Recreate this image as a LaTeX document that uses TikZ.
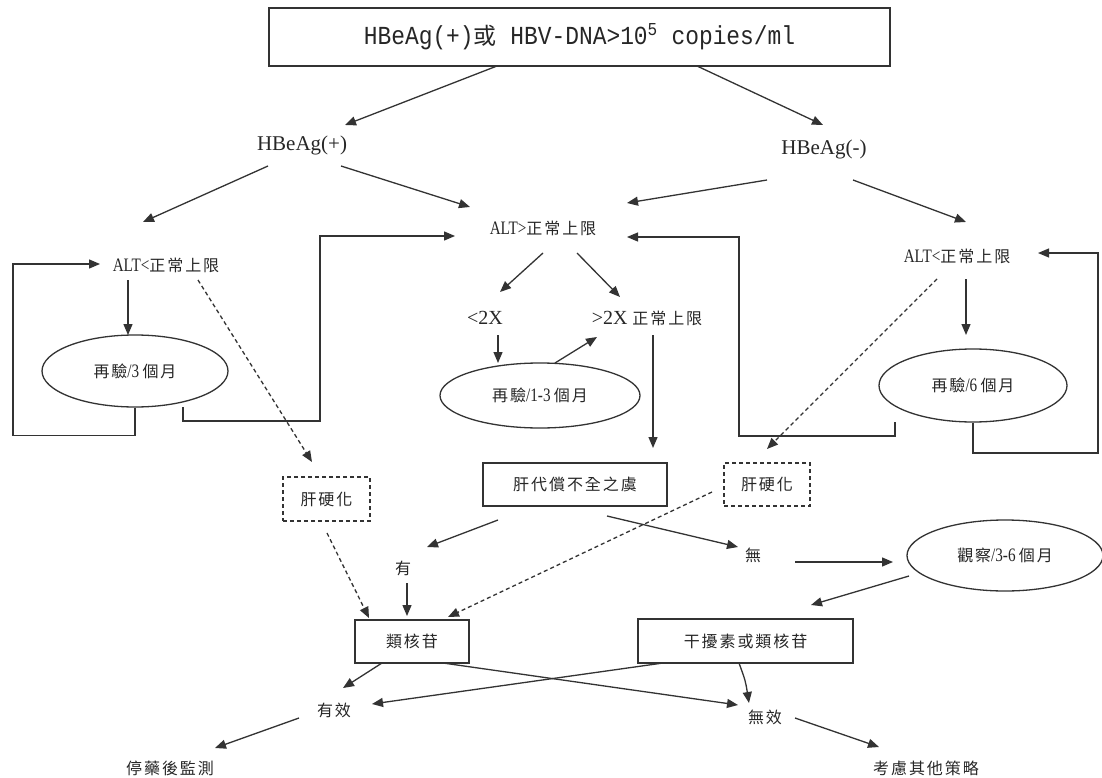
\documentclass[tikz,border=0pt]{standalone}
\usepackage{fontspec}
\setmainfont{Liberation Serif}
\newfontfamily\cjk[LetterSpace=12]{Noto Sans CJK TC}
\newfontfamily\monofam[FakeStretch=0.88]{Liberation Mono}
\newfontfamily\narrowserif[FakeStretch=0.8]{Liberation Serif}
\newcommand\zh[1]{{\cjk #1}}
\usetikzlibrary{arrows.meta,shapes.geometric,calc}
\tikzset{
  ln/.style={draw=black!80, line width=1.3pt},
  arr/.style={ln, -{Triangle[length=11pt,width=9pt]}},
  dsh/.style={arr, dash pattern=on 4pt off 3pt},
  lbl/.style={inner sep=0pt, text=black!85, font=\narrowserif\fontsize{16}{19}\selectfont},
  big/.style={inner sep=0pt, text=black!85, font=\fontsize{21}{24}\selectfont},
  boxn/.style={lbl, rectangle, draw=black!80, line width=1.3pt},
  dbox/.style={lbl, rectangle, draw=black!80, line width=1.3pt, dash pattern=on 4pt off 3pt},
  ell/.style={lbl, ellipse, draw=black!80, line width=1.3pt}
}
\newcommand\lat[1]{{\fontsize{19}{20}\selectfont #1}}
\begin{document}
\begin{tikzpicture}[x=1pt,y=-1pt]
\useasboundingbox (0,0) rectangle (1102,778);
\fill[white] (0,0) rectangle (1102,778);
% nodes
\node[boxn, minimum width=621pt, minimum height=58pt, font=\monofam\fontsize{26}{28}\selectfont] (top) at (579.5,37) {HBeAg(+)\zh{\fontsize{23}{26}\selectfont 或} HBV-DNA>10\textsuperscript{5} copies/ml};
\node[big] (hp) at (302,145) {HBeAg(+)};
\node[big] (hn) at (824,149) {HBeAg(-)};
\node[lbl] (altl) at (166,265) {\lat{ALT<}\zh{正常上限}};
\node[lbl] (altm) at (543,228) {\lat{ALT>}\zh{正常上限}};
\node[lbl] (altr) at (957,256) {\lat{ALT<}\zh{正常上限}};
\node[ell, minimum width=186pt, minimum height=72pt] (e3) at (135,371) {\zh{再驗}\lat{/3} \zh{個月}};
\node[big, font=\fontsize{20}{22}\selectfont] (lt2) at (485,318) {<2X};
\node[big, font=\fontsize{20}{22}\selectfont] (gt2) at (647,318) {>2X \zh{\fontsize{16}{19}\selectfont 正常上限}};
\node[ell, minimum width=200pt, minimum height=65pt] (e13) at (540,395.5) {\zh{再驗}\lat{/1-3} \zh{個月}};
\node[ell, minimum width=188pt, minimum height=73pt] (e6) at (973,385.5) {\zh{再驗}\lat{/6} \zh{個月}};
\node[dbox, minimum width=87pt, minimum height=44pt] (cirl) at (326.5,499) {\zh{肝硬化}};
\node[boxn, minimum width=184pt, minimum height=43pt] (dec) at (575,484.5) {\zh{肝代償不全之虞}};
\node[dbox, minimum width=86pt, minimum height=43pt] (cirr) at (767,484.5) {\zh{肝硬化}};
\node[lbl] (you) at (403,568) {\zh{有}};
\node[lbl] (wu) at (753,555) {\zh{無}};
\node[ell, minimum width=196pt, minimum height=71pt] (obs) at (1005,555.5) {\zh{觀察}\lat{/3-6} \zh{個月}};
\node[boxn, minimum width=114pt, minimum height=43pt] (nuc) at (412,641.5) {\zh{類核苷}};
\node[boxn, minimum width=215pt, minimum height=44pt] (ifn) at (745.5,641) {\zh{干擾素或類核苷}};
\node[lbl] (eff) at (334,710) {\zh{有效}};
\node[lbl] (ineff) at (765,717) {\zh{無效}};
\node[lbl] (stop) at (170,768) {\zh{停藥後監測}};
\node[lbl] (other) at (926,768) {\zh{考慮其他策略}};
% connectors
\draw[arr] ($(top)+(-82.5,29)$) -- ($(hp)+(43,-20)$);
\draw[arr] ($(top)+(117.5,29)$) -- ($(hn)+(-1,-24)$);
\draw[arr] ($(hp)+(-34,21)$) -- ($(altl)+(-23,-43)$);
\draw[arr] ($(hp)+(39,21)$) -- ($(altm)+(-73,-21)$);
\draw[arr] ($(hn)+(-57,31)$) -- ($(altm)+(84,-25)$);
\draw[arr] ($(hn)+(29,31)$) -- ($(altr)+(9,-34)$);
\draw[arr] ($(altl)+(-38,15)$) -- ($(e3)+(-7,-36)$);
\draw[arr] (e3.south) -- ++(0,28) -- ++(-122,0) |- ($(altl)+(-66,-1)$);
\draw[arr] ($(e3)+(48,36)$) |- ($(e3)+(185,50)$) |- ($(altm)+(-88,8)$);
\draw[arr] ($(altm)+(0,25)$) -- ($(lt2)+(15,-26)$);
\draw[arr] ($(altm)+(34,25)$) -- ($(gt2)+(-27,-21)$);
\draw[arr] ($(lt2)+(13,17)$) -- ($(lt2)+(13,45)$);
\draw[arr] ($(e13)+(15,-32.5)$) -- ($(gt2)+(-50,19)$);
\draw[arr] ($(gt2)+(6,17)$) -- ($(dec)+(78,-36.5)$);
\draw[arr] ($(e6)+(-78,36.5)$) |- ($(e6)+(-234,50.5)$) |- ($(altm)+(84,9)$);
\draw[arr] (e6.south) |- ($(e6)+(125,67.5)$) |- ($(altr)+(81,-3)$);
\draw[arr] ($(altr)+(9,23)$) -- ($(e6)+(-7,-50.5)$);
\draw[dsh] ($(altr)+(-20,23)$) -- ($(cirr)+(0,-35.5)$);
\draw[dsh] ($(altl)+(32,15)$) -- ($(cirl)+(-14.5,-37)$);
\draw[arr] ($(dec)+(-77,35.5)$) -- ($(you)+(24,-21)$);
\draw[arr] ($(dec)+(32,31.5)$) -- ($(wu)+(-15,-8)$);
\draw[arr] ($(wu)+(42,7)$) -- ($(obs)+(-112,6.5)$);
\draw[arr] ($(obs)+(-96,20.5)$) -- ($(ifn)+(65.5,-36)$);
\draw[dsh] ($(cirl)+(0.5,34)$) -- ($(nuc)+(-43,-23.5)$);
\draw[arr] ($(you)+(4,15)$) -- ($(nuc)+(-5,-25.5)$);
\draw[dsh] ($(cirr)+(-55,7.5)$) -- ($(nuc)+(36,-24.5)$);
\draw[arr] ($(nuc)+(-30,21.5)$) -- ($(eff)+(9,-22)$);
\draw[arr] ($(nuc)+(31,21.5)$) -- ($(ineff)+(-27,-12)$);
\draw[arr] ($(ifn)+(-82.5,22)$) -- ($(eff)+(38,-6)$);
\draw[arr] ($(ifn)+(-6.5,22)$) .. controls ($(ifn)+(0,40)$) .. ($(ineff)+(-16,-14)$);
\draw[arr] ($(eff)+(-35,8)$) -- ($(stop)+(45,-20)$);
\draw[arr] ($(ineff)+(30,1)$) -- ($(other)+(-47,-21)$);
\end{tikzpicture}
\end{document}
